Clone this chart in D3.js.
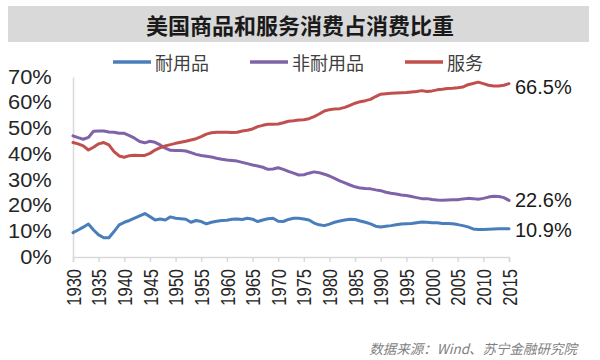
<!DOCTYPE html>
<html>
<head>
<meta charset="utf-8">
<script src="https://cdn.jsdelivr.net/npm/d3@7"></script>
<style>
  html, body { margin: 0; padding: 0; background: #fff; }
  svg { display: block; }
  text { font-family: "Liberation Sans", Arial, "Noto Sans CJK SC", sans-serif; }
  .cjk { font-family: "Noto Sans CJK SC", "Liberation Sans", sans-serif; }
</style>
</head>
<body>
<svg id="chart" width="600" height="360"></svg>
<script>
const title = "美国商品和服务消费占消费比重";
const sourceText = "数据来源：Wind、苏宁金融研究院";
const seriesNames = ["耐用品", "非耐用品", "服务"];
const endLabels = ["10.9%", "22.6%", "66.5%"];
const years = d3.range(1930, 2016);
const yTicks = [0, 10, 20, 30, 40, 50, 60, 70];
const xTicks = d3.range(1930, 2016, 5);

const durable = [
  9.5, 10.5, 11.6, 12.8, 10.5, 8.6, 7.5, 7.5, 9.9, 12.5,
  13.5, 14.2, 15.1, 16.0, 16.9, 15.7, 14.4, 14.8, 14.4, 15.6,
  15.1, 14.9, 14.7, 13.5, 14.2, 13.8, 12.9, 13.5, 13.9, 14.2,
  14.3, 14.7, 14.8, 14.6, 15.1, 14.7, 13.8, 14.4, 14.9, 15.1,
  13.9, 13.8, 14.6, 15.1, 15.1, 14.8, 14.4, 13.2, 12.5, 12.2,
  12.8, 13.5, 14.0, 14.4, 14.7, 14.6, 14.0, 13.5, 12.9, 12.0,
  11.7, 12.0, 12.2, 12.5, 12.8, 12.9, 13.0, 13.3, 13.6, 13.5,
  13.3, 13.3, 13.0, 13.0, 12.9, 12.6, 12.2, 11.7, 10.9, 10.7,
  10.7, 10.8, 10.9, 11.0, 11.0, 11.0
];
const nondurable = [
  47.1, 46.4, 45.8, 46.5, 48.9, 49.0, 49.0, 48.6, 48.5, 48.1,
  48.1, 47.2, 46.2, 44.9, 44.4, 45.0, 44.6, 43.6, 42.3, 41.5,
  41.4, 41.4, 41.2, 40.6, 39.9, 39.5, 39.2, 38.9, 38.4, 38.0,
  37.7, 37.5, 37.3, 36.8, 36.3, 35.8, 35.4, 34.9, 34.1, 34.2,
  34.7, 34.1, 33.3, 32.6, 31.9, 32.0, 32.6, 33.1, 32.8, 32.2,
  31.5, 30.6, 29.6, 28.8, 28.0, 27.3, 26.8, 26.6, 26.5, 26.1,
  25.8, 25.2, 24.8, 24.5, 24.1, 23.9, 23.5, 23.1, 22.7, 22.7,
  22.4, 22.2, 22.1, 22.2, 22.3, 22.3, 22.6, 22.8, 22.7, 22.5,
  22.8, 23.3, 23.6, 23.5, 23.1, 22.0
];
const services = [
  44.5, 44.0, 43.2, 41.6, 42.7, 44.0, 44.5, 43.6, 41.0, 39.3,
  38.8, 39.4, 39.6, 39.5, 39.5, 40.3, 41.6, 42.5, 43.2, 43.7,
  44.2, 44.6, 45.0, 45.5, 46.0, 46.8, 47.8, 48.3, 48.5, 48.5,
  48.5, 48.4, 48.5, 49.0, 49.3, 49.8, 50.7, 51.2, 51.6, 51.6,
  51.7, 52.2, 52.8, 53.0, 53.3, 53.4, 53.8, 54.6, 55.6, 56.8,
  57.3, 57.6, 57.7, 58.2, 59.0, 59.8, 60.4, 60.8, 61.3, 62.4,
  63.3, 63.5, 63.7, 63.8, 63.9, 64.0, 64.2, 64.4, 64.7, 64.4,
  64.6, 65.0, 65.2, 65.5, 65.6, 65.8, 66.1, 67.0, 67.5, 68.0,
  67.4, 66.8, 66.5, 66.5, 66.8, 67.4
];

const seriesValues = [durable, nondurable, services];
const colors = ["#4a7ebb", "#7f63a8", "#c0504d"];

const svg = d3.select("#chart");

// Title bar
svg.append("rect").attr("x", 8).attr("y", 6).attr("width", 581).attr("height", 36).attr("fill", "#d9d9d9");
svg.append("text").attr("class", "cjk").attr("x", 300).attr("y", 24)
  .attr("text-anchor", "middle").attr("dominant-baseline", "central")
  .attr("font-size", 22).attr("font-weight", "bold").attr("fill", "#1a1a1a").text(title);

// Legend
const legendX = [113, 250, 405];
seriesNames.forEach((n, i) => {
  svg.append("line").attr("x1", legendX[i]).attr("x2", legendX[i] + 38)
    .attr("y1", 62).attr("y2", 62).attr("stroke", colors[i]).attr("stroke-width", 3.5);
  svg.append("text").attr("class", "cjk").attr("x", legendX[i] + 42).attr("y", 62)
    .attr("dominant-baseline", "central").attr("font-size", 18).attr("fill", "#404040").text(n);
});

const x = d3.scaleLinear().domain([1930, 2015]).range([73, 509]);
const y = d3.scaleLinear().domain([0, 70]).range([257, 77]);

// Y axis
const yAxis = svg.append("g").attr("transform", "translate(73,0)")
  .call(d3.axisLeft(y).tickValues(yTicks).tickSize(0).tickPadding(19).tickFormat(d => d + "%"));
yAxis.select(".domain").attr("stroke", "#d9d9d9").attr("stroke-width", 1.5);
yAxis.selectAll("text").attr("font-size", 19.5).attr("fill", "#262626")
  .attr("font-family", "'Liberation Sans', Arial, sans-serif")
  .attr("transform", "scale(1.12,1)");

// X axis
const xAxis = svg.append("g").attr("transform", "translate(0,257)")
  .call(d3.axisBottom(x).tickValues(xTicks).tickSize(5).tickFormat(d3.format("d")));
xAxis.select(".domain").attr("stroke", "#d9d9d9").attr("stroke-width", 1.5);
xAxis.selectAll(".tick line").attr("stroke", "#d9d9d9").attr("stroke-width", 1.5);
xAxis.selectAll("text")
  .attr("font-size", 16.5).attr("fill", "#262626")
  .attr("font-family", "'Liberation Sans', Arial, sans-serif")
  .attr("text-anchor", "end")
  .attr("transform", "rotate(-90) scale(1,1.2)")
  .attr("x", -12).attr("y", 0).attr("dy", "0.36em");

// Lines
const line = d3.line().x((d, i) => x(years[i])).y(d => y(d)).curve(d3.curveLinear);
seriesValues.forEach((vals, i) => {
  svg.append("path").datum(vals).attr("d", line)
    .attr("fill", "none").attr("stroke", colors[i]).attr("stroke-width", 3)
    .attr("stroke-linejoin", "round").attr("stroke-linecap", "round");
});

// End labels
const endOffsets = [1, 0, 3];
seriesValues.forEach((vals, i) => {
  svg.append("text").attr("x", x(2015) + 6).attr("y", y(vals[vals.length - 1]) + endOffsets[i])
    .attr("dominant-baseline", "central").attr("font-size", 20).attr("fill", "#1a1a1a")
    .text(endLabels[i]);
});

// Source
svg.append("text").attr("class", "cjk").attr("x", 577).attr("y", 348)
  .attr("text-anchor", "end").attr("dominant-baseline", "central")
  .attr("font-size", 13.5).attr("font-style", "italic").attr("fill", "#7f7f7f")
  .text(sourceText);
</script>
</body>
</html>
